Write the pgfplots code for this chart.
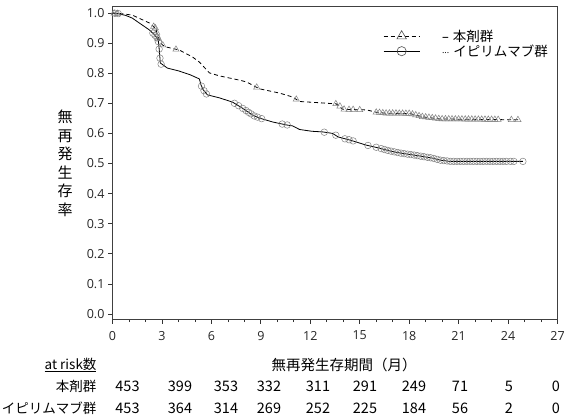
\documentclass[border=0pt]{standalone}
\usepackage{pgfplots}
\pgfplotsset{compat=1.18}
\usepackage{fontspec}
\setmainfont{Noto Sans CJK JP}
\newfontfamily\tickfont{Open Sans}

\begin{document}
\begin{tikzpicture}
\useasboundingbox (0pt,0pt) rectangle (565pt,418pt);
\begin{axis}[
  at={(112.5pt,99pt)}, anchor=south west,
  width=445pt, height=312.3pt, scale only axis,
  xmin=0, xmax=27, ymin=-0.0166, ymax=1.0209,
  xtick={0,3,6,9,12,15,18,21,24,27},
  minor x tick num=2,
  ytick={0,0.1,0.2,0.3,0.4,0.5,0.6,0.7,0.8,0.9,1.0},
  tick align=outside, tick pos=left,
  major tick length=4.5pt, minor tick length=3pt,
  every tick/.style={black!80, line width=0.7pt},
  axis line style={black!75, line width=0.9pt},
  /pgf/number format/assume math mode=true,
  ticklabel style={font=\tickfont\fontsize{12.5}{14}\selectfont, text=black!85},
  yticklabel style={/pgf/number format/.cd, fixed, fixed zerofill, precision=1},
  xticklabel style={yshift=-4pt},
  clip=false,
  legend image code/.code={%
    \draw[#1, mark repeat=2, mark phase=2] plot coordinates {(0pt,0pt) (18pt,0pt) (36pt,0pt)};},
  legend style={at={(0.608,0.93)}, anchor=north west, draw=none, fill=none,
    inner sep=0pt, row sep=0pt, font=\fontsize{13.5}{15.5}\selectfont,
    nodes={inner sep=1pt},
    /tikz/every odd column/.append style={column sep=21pt}},
  legend cell align=left,
]
% legend samples
\addlegendimage{black, line width=0.8pt, dash pattern=on 4pt off 3pt, mark=triangle, mark size=5.5pt, mark options={solid, draw=black!70, fill=white, line width=0.6pt}}
\addlegendentry{{\tickfont –}\hspace{4pt}本剤群}
\addlegendimage{black, line width=0.8pt, mark=o, mark size=4.6pt, mark options={solid, draw=black!70, fill=white, line width=0.6pt}}
\addlegendentry{\raisebox{2.5pt}{\tickfont\fontsize{9}{10}\selectfont ...}\hspace{4pt}イピリムマブ群}

% study drug arm (dashed)
\addplot[black, line width=0.8pt, dash pattern=on 4pt off 3pt, forget plot] coordinates {
(0,1.0) (0.5,0.998) (1.2,0.993) (2.23,0.967) (2.64,0.948) (2.72,0.925) (2.9,0.905)
(3.02,0.894) (3.26,0.887) (4.05,0.877) (4.85,0.854) (5.27,0.837) (5.88,0.801)
(6.49,0.791) (7.7,0.777) (8.13,0.771) (8.92,0.748) (10.13,0.734) (10.92,0.721)
(11.35,0.706) (12.5,0.702) (13.58,0.698) (13.97,0.680) (15.42,0.678) (16.03,0.670)
(16.6,0.667) (18.04,0.666) (18.83,0.655) (19.86,0.648) (24.7,0.645)
};
\addplot[only marks, mark=triangle, mark size=3.6pt, mark options={draw=black!50, line width=0.5pt}, forget plot] coordinates {
(0.1,0.999) (0.3,0.998) (2.5,0.955) (2.6,0.950) (2.68,0.935) (2.78,0.915) (3.05,0.893)
(3.85,0.879) (8.75,0.753) (11.15,0.713) (13.55,0.698) (13.8,0.690) (14.05,0.680)
(14.35,0.679) (14.6,0.679) (15.0,0.678)
(16.0,0.670) (16.2,0.669) (16.4,0.668) (16.6,0.667) (16.8,0.667) (17.0,0.667)
(17.2,0.667) (17.4,0.6665) (17.6,0.6663) (17.8,0.6661) (18.0,0.666) (18.2,0.6638)
(18.4,0.6611) (18.6,0.6582) (18.8,0.6554) (19.0,0.6541) (19.2,0.6528) (19.4,0.6515)
(19.6,0.6502) (19.8,0.6488) (20.0,0.6479) (20.2,0.6478) (20.4,0.6477) (20.6,0.6475)
(20.8,0.6474) (21.0,0.6473) (21.2,0.6472) (21.4,0.647) (21.6,0.6469) (21.8,0.6468)
(22.0,0.6467) (22.2,0.6465) (22.4,0.6464) (22.6,0.6463) (22.8,0.6462) (23.0,0.646)
(23.2,0.6459) (23.4,0.6458) (24.2,0.6453) (24.6,0.6451)
};

% ipilimumab arm (solid)
\addplot[black, line width=0.8pt, forget plot] coordinates {
(0,1.0) (0.3,0.998) (0.8,0.992) (1.2,0.983) (1.62,0.967) (2.23,0.944) (2.5,0.930)
(2.66,0.920) (2.78,0.910) (2.85,0.870) (2.9,0.834) (3.33,0.817) (4.05,0.807)
(4.7,0.795) (5.27,0.781) (5.37,0.761) (5.5,0.745) (5.76,0.728) (6.49,0.718)
(7.28,0.704) (7.88,0.684) (8.49,0.661) (8.91,0.651) (9.71,0.638) (10.56,0.628)
(10.92,0.625) (11.35,0.613) (12.1,0.607) (12.75,0.605) (13.35,0.600) (13.7,0.588)
(14.4,0.578) (15.4,0.561) (16.2,0.551) (16.8,0.542) (17.43,0.535) (18.4,0.527)
(19.4,0.518) (19.9,0.511) (20.47,0.507) (24.9,0.507)
};
\addplot[only marks, mark=o, mark size=3.3pt, mark options={draw=black!50, line width=0.5pt}, forget plot] coordinates {
(0.15,0.999) (0.35,0.998) (2.45,0.933) (2.58,0.926) (2.7,0.917) (2.78,0.905)
(2.83,0.880) (2.88,0.850) (2.95,0.830)
(5.4,0.757) (5.55,0.742) (5.7,0.731) (7.4,0.700) (7.65,0.692) (7.9,0.683)
(8.1,0.676) (8.25,0.670) (8.4,0.665) (8.6,0.658) (8.8,0.654) (9.05,0.649)
(10.3,0.631) (10.6,0.628) (12.85,0.604) (13.55,0.594) (14.1,0.582) (14.35,0.579)
(14.6,0.575) (15.5,0.560) (16.0,0.554)
(16.3,0.5495) (16.5,0.5465) (16.7,0.5435) (16.9,0.541) (17.1,0.5387) (17.3,0.5364)
(17.5,0.5343) (17.7,0.5327) (17.9,0.531) (18.1,0.5295) (18.3,0.528) (18.5,0.526)
(18.7,0.5243) (18.9,0.5225) (19.1,0.5207) (19.3,0.519) (19.5,0.5166) (19.7,0.5138)
(19.9,0.511) (20.1,0.5097) (20.3,0.5085) (20.5,0.507) (20.7,0.507) (20.9,0.507)
(21.1,0.507) (21.3,0.507) (21.5,0.507) (21.7,0.507) (21.9,0.507) (22.1,0.507)
(22.3,0.507) (22.5,0.507) (22.7,0.507) (22.9,0.507) (23.1,0.507) (23.3,0.507)
(23.5,0.507) (23.7,0.507) (23.9,0.507) (24.15,0.507) (24.35,0.507) (24.9,0.507)
};
\end{axis}

% y-axis title, set vertically
\node[font=\fontsize{15}{18.5}\selectfont, align=center] at (65pt,254.5pt) {無\\再\\発\\生\\存\\率};
% x-axis title
\node[font=\fontsize{14.5}{16}\selectfont] at (344pt,53pt) {無再発生存期間（月）};

% number-at-risk table
\node[anchor=east, font=\fontsize{13.5}{16}\selectfont] at (100pt,53pt) {\underline{at risk数}};
\node[anchor=east, font=\fontsize{13.5}{16}\selectfont] at (100pt,32pt) {本剤群};
\node[anchor=east, font=\fontsize{13.5}{16}\selectfont] at (100pt,10pt) {イピリムマブ群};
\foreach \xx/\a/\b in {127.5/453/453, 180/399/364, 226/353/314, 269/332/269, 318/311/252,
                      365/291/225, 414/249/184, 460/71/56, 509/5/2, 556/0/0} {
  \node[font=\fontsize{14.5}{16}\selectfont] at (\xx pt,32pt) {\a};
  \node[font=\fontsize{14.5}{16}\selectfont] at (\xx pt,10pt) {\b};
}
\end{tikzpicture}
\end{document}
